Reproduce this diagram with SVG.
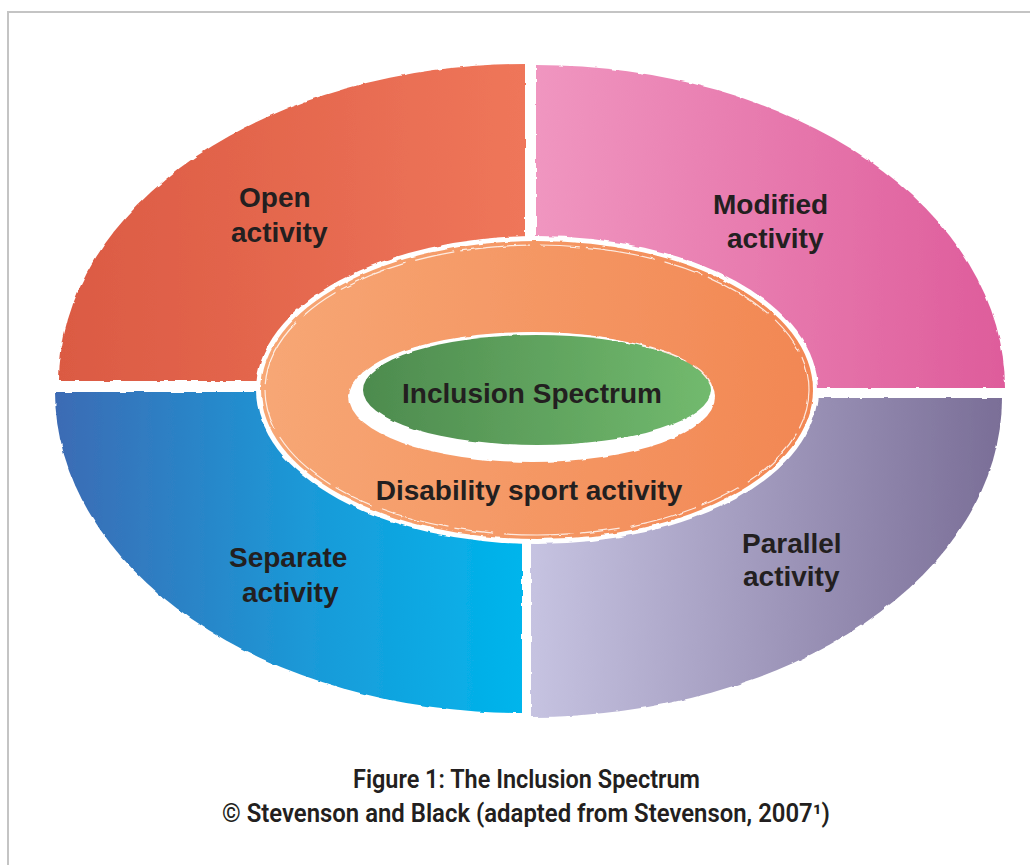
<svg xmlns="http://www.w3.org/2000/svg" width="1030" height="865" viewBox="0 0 1030 865">
<defs>
<linearGradient id="gOpen" gradientUnits="userSpaceOnUse" x1="59" y1="0" x2="525" y2="0"><stop offset="0" stop-color="#db5a43"/><stop offset="1" stop-color="#ef765a"/></linearGradient>
<linearGradient id="gMod" gradientUnits="userSpaceOnUse" x1="536" y1="0" x2="1005" y2="0"><stop offset="0" stop-color="#f096c0"/><stop offset="1" stop-color="#de5c9b"/></linearGradient>
<linearGradient id="gSep" gradientUnits="userSpaceOnUse" x1="55" y1="0" x2="522" y2="0"><stop offset="0" stop-color="#3c6bb4"/><stop offset="0.55" stop-color="#1a9ad8"/><stop offset="1" stop-color="#00b5ec"/></linearGradient>
<linearGradient id="gPar" gradientUnits="userSpaceOnUse" x1="531" y1="0" x2="1002" y2="0"><stop offset="0" stop-color="#c6c3e1"/><stop offset="1" stop-color="#7a6e97"/></linearGradient>
<linearGradient id="gRing" gradientUnits="userSpaceOnUse" x1="260" y1="0" x2="815" y2="0"><stop offset="0" stop-color="#f7a775"/><stop offset="1" stop-color="#f28753"/></linearGradient>
<linearGradient id="gCore" gradientUnits="userSpaceOnUse" x1="362" y1="0" x2="712" y2="0"><stop offset="0" stop-color="#4d8b4e"/><stop offset="1" stop-color="#72ba6e"/></linearGradient>
<filter id="rough" x="-5%" y="-5%" width="110%" height="110%">
<feTurbulence type="fractalNoise" baseFrequency="0.09" numOctaves="2" seed="3" result="n"/>
<feDisplacementMap in="SourceGraphic" in2="n" scale="3" xChannelSelector="R" yChannelSelector="G"/>
</filter>
<style>
.lbl{font-family:"Liberation Sans",Arial,sans-serif;font-weight:bold;font-size:28px;fill:#231f20}
.cap{font-family:Roboto,"Liberation Sans",sans-serif;font-weight:600;font-size:25px;fill:#231f20}
.edge{fill:none;stroke:#ffffff}
</style>
</defs>
<rect x="8" y="12" width="1100" height="1000" fill="#ffffff" stroke="#c4c4c4" stroke-width="2"/>
<g id="open" filter="url(#rough)">
<path d="M525,64 A466,317 0 0 0 59,381 L525,381 Z" fill="url(#gOpen)"/>
</g>
<g id="modified" filter="url(#rough)">
<path d="M536,65 L536,388 L1005,388 A469,323 0 0 0 536,65 Z" fill="url(#gMod)"/>
</g>
<g id="separate" filter="url(#rough)">
<path d="M55,392 L522,392 L522,713 A467,321 0 0 1 55,392 Z" fill="url(#gSep)"/>
</g>
<g id="parallel" filter="url(#rough)">
<path d="M531,398 L1002,398 A471,319 0 0 1 531,717 Z" fill="url(#gPar)"/>
</g>
<g id="ring">
<ellipse cx="537" cy="390" rx="281" ry="154" fill="#ffffff" filter="url(#rough)"/>
<ellipse cx="537" cy="390" rx="276" ry="149" fill="url(#gRing)" filter="url(#rough)"/>
<ellipse cx="537" cy="390" rx="272" ry="145" class="edge" stroke-width="1.2" stroke-dasharray="40 6 70 10" opacity="0.8" filter="url(#rough)"/>
</g>
<g id="core">
<ellipse cx="532" cy="397" rx="183" ry="65" fill="#ffffff" filter="url(#rough)"/>
<ellipse cx="537" cy="390" rx="174" ry="55" fill="url(#gCore)" filter="url(#rough)"/>
<ellipse cx="535" cy="392" rx="178" ry="59" class="edge" stroke-width="1.2" stroke-dasharray="50 8 30 12" opacity="0.9" filter="url(#rough)"/>
</g>
<g id="labels">
<text class="lbl" x="239" y="207">Open</text>
<text class="lbl" x="231" y="242">activity</text>
<text class="lbl" x="713" y="214">Modified</text>
<text class="lbl" x="727" y="248">activity</text>
<text class="lbl" x="229" y="567">Separate</text>
<text class="lbl" x="242" y="602">activity</text>
<text class="lbl" x="742" y="553">Parallel</text>
<text class="lbl" x="743" y="586">activity</text>
<text class="lbl" x="532" y="403" text-anchor="middle">Inclusion Spectrum</text>
<text class="lbl" x="529" y="500" text-anchor="middle">Disability sport activity</text>
</g>
<g id="caption">
<text class="cap" x="353" y="788" textLength="347" lengthAdjust="spacingAndGlyphs">Figure 1: The Inclusion Spectrum</text>
<text class="cap" x="222" y="822" textLength="608" lengthAdjust="spacingAndGlyphs">© Stevenson and Black (adapted from Stevenson, 2007¹)</text>
</g>
</svg>
